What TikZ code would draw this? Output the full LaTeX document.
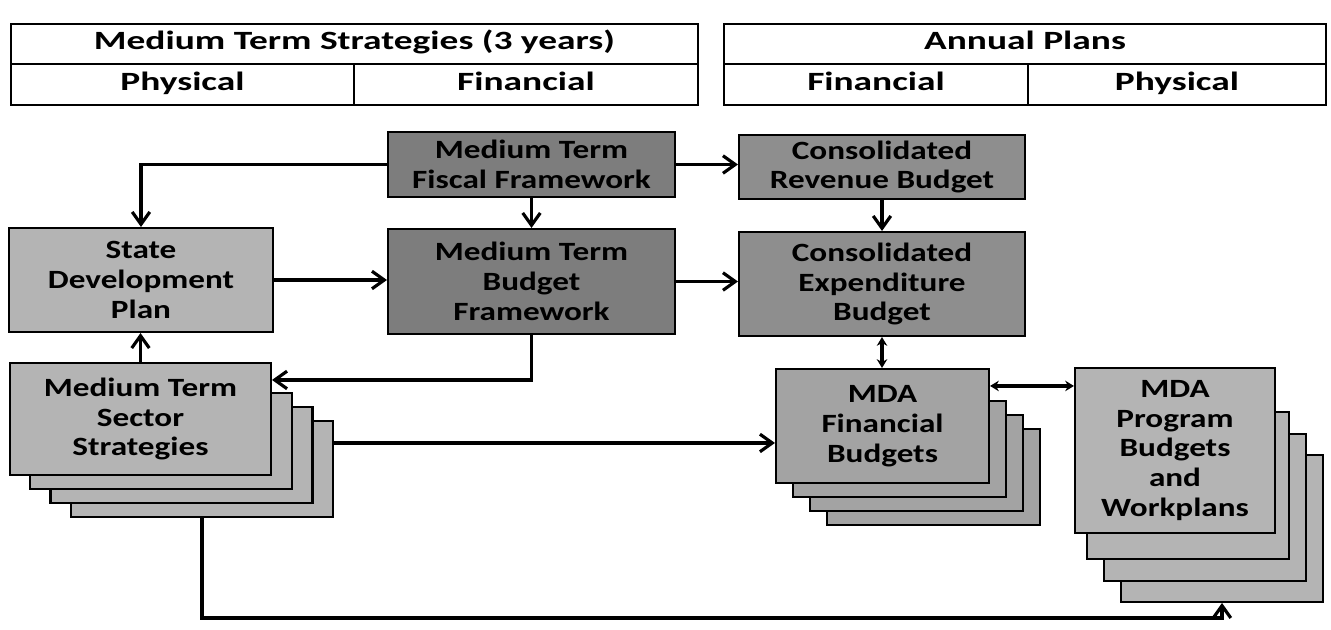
\documentclass[tikz,border=0pt]{standalone}
\usepackage{fontspec}
\setmainfont{Carlito}
\newfontfamily\headfont{Carlito}[FakeStretch=1.42]
\newfontfamily\boxfont{Carlito}[FakeStretch=1.26]
\usetikzlibrary{arrows.meta}
\definecolor{darkbox}{HTML}{7D7D7D}
\definecolor{midbox}{HTML}{8E8E8E}
\definecolor{fbbox}{HTML}{A3A3A3}
\definecolor{lightbox}{HTML}{B4B4B4}
\tikzset{
  head/.style={draw, rectangle, line width=0.8pt, inner sep=0pt, text height=1.35ex, text depth=0ex, font=\headfont\bfseries\fontsize{15}{17}\selectfont},
  box/.style={draw, rectangle, line width=1.2pt, inner sep=0pt, align=center, font=\boxfont\bfseries\fontsize{15}{17}\selectfont},
  flow/.style={->, >={Straight Barb[length=7pt, width=10pt]}, line width=1.8pt},
  dflow/.style={<->, >={Stealth[length=5pt, width=6pt]}, line width=1.8pt}
}

\begin{document}
\begin{tikzpicture}[x=0.02cm, y=-0.02cm]
				\useasboundingbox (0,0) rectangle (1331,629);
				\node[head, minimum width=13.74cm, minimum height=0.8cm] (H1)at(354.5, 44) {Medium Term Strategies (3 years)};
				\node[head, minimum width=6.86cm, minimum height=0.82cm] (P1)at(182.5, 84.5) {Physical};
				\node[head, minimum width=6.88cm, minimum height=0.82cm] (F1)at(526, 84.5) {Financial};
				\node[head, minimum width=12.04cm, minimum height=0.8cm] (H2)at(1025, 44) {Annual Plans};
				\node[head, minimum width=6.08cm, minimum height=0.82cm] (F2)at(876, 84.5) {Financial};
				\node[head, minimum width=5.96cm, minimum height=0.82cm] (P2)at(1177, 84.5) {Physical};
				\node[box, fill=darkbox, minimum width=5.74cm, minimum height=1.3cm] (MTFF)at(531.5, 164.5) {Medium Term\\Fiscal Framework};
				\node[box, fill=midbox, minimum width=5.72cm, minimum height=1.28cm] (CRB)at(882, 167) {Consolidated\\Revenue Budget};
				\node[box, fill=lightbox, minimum width=5.28cm, minimum height=2.08cm] (SDP)at(141, 280) {State\\Development\\Plan};
				\node[box, fill=darkbox, minimum width=5.74cm, minimum height=2.1cm] (MTBF)at(531.5, 281.5) {Medium Term\\Budget\\Framework};
				\node[box, fill=midbox, minimum width=5.72cm, minimum height=2.08cm] (CEB)at(882, 284) {Consolidated\\Expenditure\\Budget};
				\foreach \k in {3,2,1}
					\node[box, fill=lightbox, minimum width=5.24cm, minimum height=1.92cm] (MTSS\k)at({140.5+20.5*\k}, {427+14*\k}) {};
				\node[box, fill=lightbox, minimum width=5.22cm, minimum height=2.24cm] (MTSS)at(140.5, 419) {Medium Term\\Sector\\Strategies};
				\foreach \k in {3,2,1}
					\node[box, fill=fbbox, minimum width=4.26cm, minimum height=1.92cm] (FB\k)at({882.5+17*\k}, {435+14*\k}) {};
				\node[box, fill=fbbox, minimum width=4.26cm, minimum height=2.28cm] (FB)at(882.5, 426) {MDA\\Financial\\Budgets};
				\foreach \k in {3,2,1}
					\node[box, fill=lightbox, minimum width=4.04cm, minimum height=2.94cm] (PB\k)at({1171+17*\k}, {464.5+21.3*\k}) {};
				\node[box, fill=lightbox, minimum width=4cm, minimum height=3.3cm] (PB)at(1175, 450.5) {MDA\\Program\\Budgets\\and\\Workplans};
				\coordinate (B)at(0, 618);
				\draw[flow] (MTFF.west) -| (SDP.north);
				\draw[flow] (MTFF.east) -- (MTFF.east -| CRB.west);
				\draw[flow] (MTFF) -- (MTBF);
				\draw[flow] (CRB) -- (CEB);
				\draw[flow] (SDP.east) -- (SDP.east -| MTBF.west);
				\draw[flow] (MTBF.east) -- (MTBF.east -| CEB.west);
				\draw[flow] (MTBF.south) |- ([yshift=-0.36cm]MTSS.north east);
				\draw[flow] (MTSS.north) -- (MTSS.north |- SDP.south);
				\draw[flow] ([yshift=-0.46cm]MTSS3.north east) -- ([yshift=-0.46cm]MTSS3.north east -| FB.west);
				\draw[dflow] (CEB.south) -- (CEB.south |- FB.north);
				\draw[dflow] ([yshift=-0.36cm]FB.north east) -- ([yshift=-0.36cm]FB.north east -| PB.west);
				\draw[flow] (MTSS3.south) -- (MTSS3.south |- B) -| (PB3.south);
			\end{tikzpicture}
\end{document}
